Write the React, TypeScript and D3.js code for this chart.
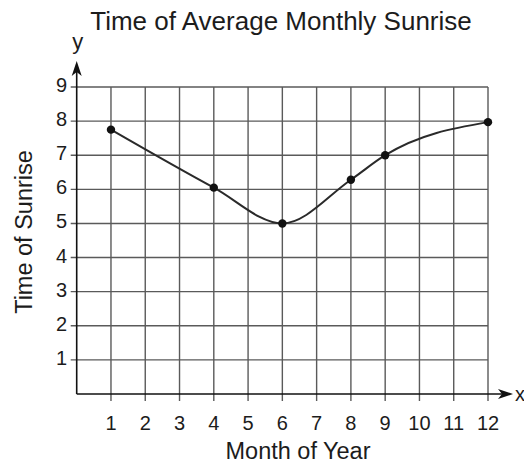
import React, { useEffect, useRef } from 'react';
import * as d3 from 'd3';

const months = [1, 4, 6, 8, 9, 12];
const sunrise = [7.75, 6.05, 5.0, 6.28, 7.0, 7.97];
const xTicks = [1, 2, 3, 4, 5, 6, 7, 8, 9, 10, 11, 12];
const yTicks = [1, 2, 3, 4, 5, 6, 7, 8, 9];

const title = 'Time of Average Monthly Sunrise';
const xLabel = 'Month of Year';
const yLabel = 'Time of Sunrise';

const W = 524, H = 464;
const FONT = '"Liberation Sans", Arial, Helvetica, sans-serif';

const App = () => {
  const ref = useRef<SVGSVGElement>(null);

  useEffect(() => {
    const svg = d3.select(ref.current);
    svg.selectAll('*').remove();

    const x = d3.scaleLinear().domain([0, 12]).range([76.7, 488]);
    const y = d3.scaleLinear().domain([0, 9]).range([394, 87]);

    const grid = svg.append('g').attr('stroke', '#5a5a5a').attr('stroke-width', 1.4);
    // vertical grid lines
    grid.selectAll('.vg').data(xTicks).enter().append('line')
      .attr('x1', d => x(d)).attr('x2', d => x(d))
      .attr('y1', y(0)).attr('y2', y(9));
    // horizontal grid lines (extend a bit left of the axis as ticks)
    grid.selectAll('.hg').data(yTicks).enter().append('line')
      .attr('x1', x(0) - 6).attr('x2', x(12))
      .attr('y1', d => y(d)).attr('y2', d => y(d));
    // little ticks under the x axis
    grid.selectAll('.xt').data(xTicks).enter().append('line')
      .attr('x1', d => x(d)).attr('x2', d => x(d))
      .attr('y1', y(0)).attr('y2', y(0) + 7);

    // axes with arrows
    const axes = svg.append('g').attr('stroke', '#111').attr('stroke-width', 1.6);
    axes.append('line').attr('x1', x(0)).attr('x2', 502).attr('y1', y(0)).attr('y2', y(0));
    axes.append('line').attr('x1', x(0)).attr('x2', x(0)).attr('y1', y(0)).attr('y2', 70);
    svg.append('path')
      .attr('d', `M${x(0)},61 L${x(0) - 5},76 L${x(0)},72 L${x(0) + 5},76 Z`)
      .attr('fill', '#111');
    svg.append('path')
      .attr('d', `M513,${y(0)} L498,${y(0) - 5} L502,${y(0)} L498,${y(0) + 5} Z`)
      .attr('fill', '#111');

    const txt = svg.append('g').attr('font-family', FONT).attr('fill', '#1c1c1c');

    txt.append('text').attr('x', 281).attr('y', 30).attr('text-anchor', 'middle')
      .attr('font-size', 26).text(title);
    txt.append('text').attr('x', x(0) + 1).attr('y', 49).attr('text-anchor', 'middle')
      .attr('font-size', 22).text('y');
    txt.append('text').attr('x', 515).attr('y', 401)
      .attr('font-size', 20).text('x');

    txt.selectAll('.xl').data(xTicks).enter().append('text')
      .attr('x', d => x(d)).attr('y', 430).attr('text-anchor', 'middle')
      .attr('font-size', 20).text(d => d);
    txt.selectAll('.yl').data(yTicks).enter().append('text')
      .attr('x', 67).attr('y', d => y(d) + 5).attr('text-anchor', 'end')
      .attr('font-size', 20).text(d => d);

    txt.append('text').attr('x', 298).attr('y', 459).attr('text-anchor', 'middle')
      .attr('font-size', 23.5).text(xLabel);
    txt.append('text').attr('transform', 'translate(32,232) rotate(-90)')
      .attr('text-anchor', 'middle').attr('font-size', 23.5).text(yLabel);

    const pts = months.map((m, i) => [m, sunrise[i]] as [number, number]);
    const line = d3.line<[number, number]>()
      .x(d => x(d[0])).y(d => y(d[1]))
      .curve(d3.curveMonotoneX);

    svg.append('path').datum(pts)
      .attr('d', line)
      .attr('fill', 'none').attr('stroke', '#2a2a2a').attr('stroke-width', 2);

    svg.selectAll('.dot').data(pts).enter().append('circle')
      .attr('cx', d => x(d[0])).attr('cy', d => y(d[1]))
      .attr('r', 4.2).attr('fill', '#111');
  }, []);

  return (
    <svg ref={ref} width={W} height={H}
      style={{ position: 'absolute', left: 0, top: 0, background: '#fff' }} />
  );
};

export default App;
